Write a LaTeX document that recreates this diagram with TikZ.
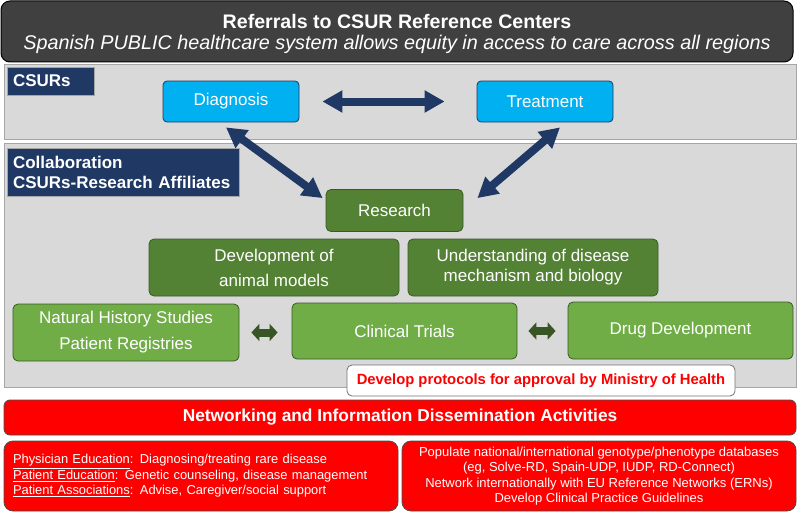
\documentclass[tikz,border=0pt]{standalone}
\usepackage{fontspec}
\setmainfont{Liberation Sans}
\usetikzlibrary{arrows.meta,calc}
\definecolor{titlegray}{HTML}{404040}
\definecolor{panelgray}{HTML}{D9D9D9}
\definecolor{panelborder}{HTML}{A6A6A6}
\definecolor{navy}{HTML}{1F3864}
\definecolor{skyblue}{HTML}{00B0F0}
\definecolor{darkgreen}{HTML}{548235}
\definecolor{lightgreen}{HTML}{70AD47}
\definecolor{arrowgreen}{HTML}{375623}
\definecolor{greenborder}{HTML}{3A5A24}
\definecolor{brightred}{HTML}{FF0000}
\tikzset{
  panel/.style={draw=panelborder, fill=panelgray, line width=1pt, inner sep=0pt},
  navylabel/.style={fill=navy, draw=panelborder, line width=0.6pt, text=white, align=left, inner xsep=6pt, inner ysep=0pt, anchor=center},
  bluebox/.style={draw=navy, fill=skyblue, rounded corners=4pt, line width=0.8pt, text=white, font=\fontsize{17}{21}\selectfont, inner sep=0pt},
  dgbox/.style={draw=greenborder, fill=darkgreen, rounded corners=5pt, line width=0.8pt, text=white, font=\fontsize{17}{21}\selectfont, inner sep=0pt, align=center},
  lgbox/.style={draw=greenborder, fill=lightgreen, rounded corners=5pt, line width=0.8pt, text=white, font=\fontsize{17}{21}\selectfont, inner sep=0pt, align=center},
  redbox/.style={draw=black!70, fill=brightred, rounded corners=9pt, line width=0.8pt, text=white, inner sep=0pt},
  bigarrow/.style={draw=navy, line width=8pt, {Triangle[width=21pt,length=20pt]}-{Triangle[width=21pt,length=20pt]}},
  smallarrow/.style={draw=arrowgreen, line width=8pt, {Triangle[width=17pt,length=8pt]}-{Triangle[width=17pt,length=8pt]}},
}
\begin{document}
\begin{tikzpicture}[x=1pt,y=-1pt]
\useasboundingbox (0,0) rectangle (797,511);
% title
\node[draw=black, fill=titlegray, rounded corners=9pt, line width=1pt, minimum width=792pt, minimum height=61pt, inner sep=0pt] (title) at (397,31.5) {};
\node[text=white, font=\fontsize{19.6}{22}\selectfont\bfseries] (title1) at (397,21) {Referrals to CSUR Reference Centers};
\node[text=white, font=\fontsize{19.8}{22}\selectfont\itshape] (title2) at (397,44.5) {Spanish PUBLIC healthcare system allows equity in access to care across all regions};
% CSURs panel
\node[panel, minimum width=792pt, minimum height=75pt] (p1) at (400,101.5) {};
\node[navylabel, text width=75pt, minimum height=28pt, font=\fontsize{17}{21}\selectfont\bfseries] (l1) at (50.5,81) {CSURs};
\node[bluebox, minimum width=136pt, minimum height=41pt] (diag) at (231,101.5) {Diagnosis};
\node[bluebox, minimum width=136pt, minimum height=41pt] (treat) at (545,101.5) {Treatment};
% collaboration panel
\node[panel, minimum width=792pt, minimum height=244pt] (p2) at (400,265) {};
\node[navylabel, text width=220pt, minimum height=48pt, font=\fontsize{17}{20}\selectfont\bfseries] (l2) at (123,172.5) {Collaboration\\CSURs-Research Affiliates};
\node[dgbox, minimum width=137pt, minimum height=42pt] (res) at (394.5,210.5) {Research};
\node[dgbox, minimum width=250pt, minimum height=57pt] (dev) at (274,267.5) {Development of\\[4pt]animal models};
\node[dgbox, minimum width=250pt, minimum height=57pt] (und) at (533,267.5) {Understanding of disease\\[-1pt]mechanism and biology};
\node[lgbox, minimum width=226pt, minimum height=57pt] (nh) at (126,332.5) {Natural History Studies\\[5pt]Patient Registries};
\node[lgbox, minimum width=225pt, minimum height=56pt] (ct) at (404.5,331) {Clinical Trials};
\node[lgbox, minimum width=225pt, minimum height=57pt] (dd) at (680.5,330.5) {Drug Development};
\node[draw=black!55, fill=white, rounded corners=5pt, line width=0.8pt, minimum width=388pt, minimum height=31pt, inner sep=0pt, text=brightred, font=\fontsize{14.8}{18}\selectfont\bfseries] (prot) at (541,380.5) {Develop protocols for approval by Ministry of Health};
% arrows
\draw[bigarrow, shorten <=23pt, shorten >=32pt] (diag.east) -- (treat.west);
\draw[bigarrow] ($(diag.south)+(-5,5)$) -- ($(res.north west)+(-3,9)$);
\draw[bigarrow] ($(treat.south)+(15,5)$) -- ($(res.north east)+(14,9)$);
\draw[smallarrow, shorten <=12pt, shorten >=14pt] (nh.east) -- (nh.east -| ct.west);
\draw[smallarrow, shorten <=11pt, shorten >=12pt] (ct.east) -- (ct.east -| dd.west);
% networking
\node[redbox, rounded corners=6pt, minimum width=792pt, minimum height=35pt, font=\fontsize{17.3}{20}\selectfont\bfseries] (net) at (400,417.5) {Networking and Information Dissemination Activities};
\node[redbox, minimum width=394pt, minimum height=70pt, align=left, anchor=center, font=\fontsize{12.9}{15.5}\selectfont, text width=376pt] (bl) at (201,476) {\underline{Physician Education}: Diagnosing/treating rare disease\\\underline{Patient Education}: Genetic counseling, disease management\\\underline{Patient Associations}: Advise, Caregiver/social support};
\node[redbox, minimum width=394pt, minimum height=70pt, align=center, font=\fontsize{13}{15.5}\selectfont] (br) at (599,476) {Populate national/international genotype/phenotype databases\\(eg, Solve-RD, Spain-UDP, IUDP, RD-Connect)\\Network internationally with EU Reference Networks (ERNs)\\Develop Clinical Practice Guidelines};
\end{tikzpicture}
\end{document}
